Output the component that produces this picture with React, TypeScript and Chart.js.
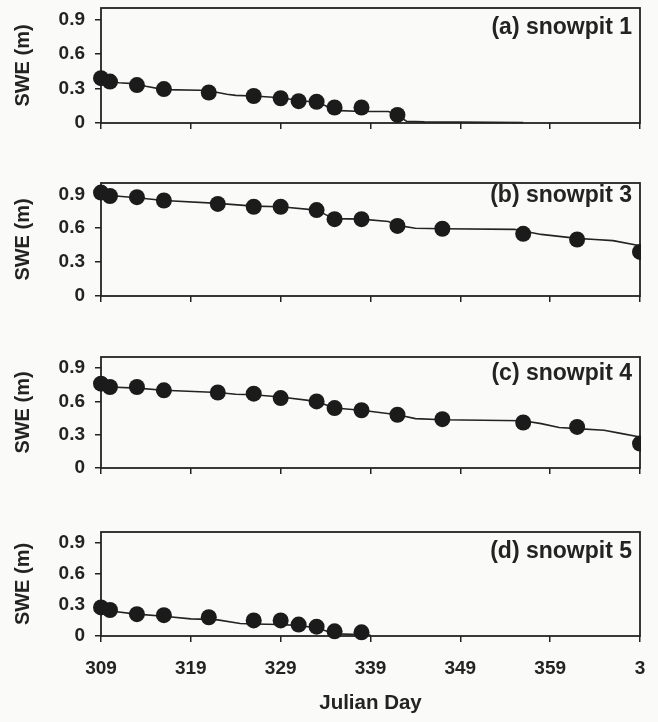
import React, { useEffect, useRef } from 'react';
import { Chart, registerables } from 'chart.js';

Chart.register(...registerables);

// ---------- data ----------
const X_TICKS = [309, 319, 329, 339, 349, 359, 369];
const X_TICK_LABELS = ['309', '319', '329', '339', '349', '359', '3'];
const Y_TICKS = [0, 0.3, 0.6, 0.9];
const Y_TICK_LABELS = ['0', '0.3', '0.6', '0.9'];
const PANEL_TITLES = ['(a) snowpit 1', '(b) snowpit 3', '(c) snowpit 4', '(d) snowpit 5'];
const X_TITLE = 'Julian Day';
const Y_TITLE = 'SWE (m)';

// observed SWE (dots)
const A_DAYS = [309, 310, 313, 316, 321, 326, 329, 331, 333, 335, 338, 342];
const A_SWE = [0.39, 0.36, 0.33, 0.295, 0.265, 0.235, 0.215, 0.19, 0.185, 0.135, 0.135, 0.07];
const B_DAYS = [309, 310, 313, 316, 322, 326, 329, 333, 335, 338, 342, 347, 356, 362, 369];
const B_SWE = [0.915, 0.885, 0.875, 0.845, 0.815, 0.79, 0.79, 0.76, 0.68, 0.68, 0.62, 0.595, 0.55, 0.5, 0.39];
const C_DAYS = [309, 310, 313, 316, 322, 326, 329, 333, 335, 338, 342, 347, 356, 362, 369];
const C_SWE = [0.76, 0.73, 0.73, 0.7, 0.68, 0.67, 0.63, 0.6, 0.54, 0.52, 0.48, 0.44, 0.41, 0.37, 0.22];
const D_DAYS = [309, 310, 313, 316, 321, 326, 329, 331, 333, 335, 338];
const D_SWE = [0.275, 0.25, 0.21, 0.2, 0.18, 0.15, 0.15, 0.11, 0.09, 0.045, 0.035];

// modelled SWE (line)
const A_LINE_DAYS = [309, 310, 311, 313, 314, 316, 320, 321, 323, 324, 326, 329, 331, 333, 334, 335, 338, 341, 342, 343, 345, 356];
const A_LINE_SWE = [0.38, 0.36, 0.35, 0.34, 0.32, 0.29, 0.285, 0.28, 0.25, 0.24, 0.235, 0.22, 0.195, 0.18, 0.15, 0.11, 0.1, 0.1, 0.07, 0.015, 0.01, 0.005];
const B_LINE_DAYS = [309, 310, 313, 316, 322, 326, 329, 333, 334, 335, 338, 341, 342, 344, 347, 355, 356, 358, 362, 364, 366, 369];
const B_LINE_SWE = [0.91, 0.89, 0.87, 0.845, 0.82, 0.795, 0.79, 0.76, 0.72, 0.685, 0.68, 0.66, 0.625, 0.6, 0.595, 0.59, 0.575, 0.545, 0.51, 0.5, 0.49, 0.445];
const C_LINE_DAYS = [309, 310, 313, 316, 322, 324, 326, 329, 333, 334, 335, 338, 342, 344, 347, 356, 358, 360, 362, 365, 367, 369];
const C_LINE_SWE = [0.76, 0.73, 0.72, 0.7, 0.68, 0.665, 0.66, 0.64, 0.6, 0.57, 0.54, 0.52, 0.48, 0.445, 0.435, 0.425, 0.4, 0.365, 0.355, 0.34, 0.31, 0.28];
const D_LINE_DAYS = [309, 310, 313, 316, 319, 321, 322, 324.5, 326, 329, 331, 333, 334, 335, 338, 339];
const D_LINE_SWE = [0.27, 0.24, 0.21, 0.19, 0.165, 0.16, 0.155, 0.12, 0.115, 0.11, 0.1, 0.08, 0.05, 0.02, 0.015, 0.01];

// ---------- layout / style ----------
const W = 658;
const H = 722;
const PLOT_LEFT = 101;
const PLOT_RIGHT = 640;
const PAD_TOP = 8;
const FONT = '"Liberation Sans", Arial, sans-serif';
const INK = '#232323';
const DOT = '#1b1b1b';

const PANELS = [
  { title: PANEL_TITLES[0], days: A_DAYS, swe: A_SWE, lineDays: A_LINE_DAYS, lineSwe: A_LINE_SWE, top: 8, bottom: 123, labelDy: 20, last: false },
  { title: PANEL_TITLES[1], days: B_DAYS, swe: B_SWE, lineDays: B_LINE_DAYS, lineSwe: B_LINE_SWE, top: 183, bottom: 296, labelDy: 13, last: false },
  { title: PANEL_TITLES[2], days: C_DAYS, swe: C_SWE, lineDays: C_LINE_DAYS, lineSwe: C_LINE_SWE, top: 357, bottom: 468, labelDy: 17, last: false },
  { title: PANEL_TITLES[3], days: D_DAYS, swe: D_SWE, lineDays: D_LINE_DAYS, lineSwe: D_LINE_SWE, top: 532, bottom: 636, labelDy: 20, last: true },
];

const boxPlugin = {
  id: 'box',
  beforeDatasetsDraw(chart: any) {
    const { ctx, chartArea: a } = chart;
    ctx.save();
    ctx.strokeStyle = INK;
    ctx.lineWidth = 1.8;
    ctx.strokeRect(a.left, a.top, a.right - a.left, a.bottom - a.top);
    ctx.restore();
  },
};

function makeLabelPlugin(text: string, dy: number) {
  return {
    id: 'panelLabel',
    afterDatasetsDraw(chart: any) {
      const { ctx, chartArea: a } = chart;
      ctx.save();
      ctx.font = `bold 23px ${FONT}`;
      ctx.fillStyle = INK;
      ctx.textAlign = 'right';
      ctx.textBaseline = 'middle';
      ctx.fillText(text, a.right - 8, a.top + dy);
      ctx.restore();
    },
  };
}

function Panel({ p }: { p: any }) {
  const ref = useRef<HTMLCanvasElement>(null);
  const canvasTop = p.top - PAD_TOP;
  const canvasBottom = p.last ? H : p.bottom + 12;
  const canvasH = canvasBottom - canvasTop;
  const xAxisH = canvasBottom - p.bottom;

  useEffect(() => {
    if (!ref.current) return;
    const chart = new Chart(ref.current, {
      type: 'scatter',
      data: {
        datasets: [
          {
            data: p.days.map((d: number, i: number) => ({ x: d, y: p.swe[i] })),
            showLine: false,
            pointRadius: 8,
            pointHoverRadius: 8,
            pointBackgroundColor: DOT,
            pointBorderColor: DOT,
            pointBorderWidth: 0,
            clip: { left: 12, top: 12, right: 1, bottom: 12 },
          } as any,
          {
            data: p.lineDays.map((d: number, i: number) => ({ x: d, y: p.lineSwe[i] })),
            showLine: true,
            pointRadius: 0,
            borderColor: INK,
            borderWidth: 1.6,
            tension: 0,
            clip: 2,
          } as any,
        ],
      },
      options: {
        responsive: false,
        animation: false,
        events: [],
        layout: { padding: { top: PAD_TOP, left: 0, right: W - PLOT_RIGHT, bottom: 0 } },
        plugins: {
          legend: { display: false },
          tooltip: { enabled: false },
          title: { display: false },
        },
        scales: {
          x: {
            type: 'linear',
            min: 309,
            max: 369,
            afterBuildTicks: (ax: any) => {
              ax.ticks = X_TICKS.map((v) => ({ value: v }));
            },
            afterFit: (ax: any) => {
              ax.height = xAxisH;
              ax.paddingLeft = 0;
              ax.paddingRight = 0;
            },
            ticks: {
              display: p.last,
              autoSkip: false,
              maxRotation: 0,
              padding: 15,
              color: INK,
              font: { family: FONT, size: 19, weight: 'bold' },
              callback: (_v: any, i: number) => X_TICK_LABELS[i],
            },
            grid: { drawOnChartArea: false, drawTicks: true, tickLength: 6, color: INK, lineWidth: 1.5 },
            border: { display: false },
            title: {
              display: p.last,
              text: X_TITLE,
              color: INK,
              font: { family: FONT, size: 20.5, weight: 'bold' },
              padding: { top: 0, bottom: 6 },
            },
          },
          y: {
            type: 'linear',
            min: 0,
            max: 1.0,
            afterBuildTicks: (ax: any) => {
              ax.ticks = Y_TICKS.map((v) => ({ value: v }));
            },
            afterFit: (ax: any) => {
              ax.width = PLOT_LEFT;
              ax.paddingTop = 0;
              ax.paddingBottom = 0;
            },
            ticks: {
              padding: 10,
              color: INK,
              font: { family: FONT, size: 19, weight: 'bold' },
              callback: (_v: any, i: number) => Y_TICK_LABELS[i],
            },
            grid: { drawOnChartArea: false, drawTicks: true, tickLength: 6, color: INK, lineWidth: 1.5 },
            border: { display: false },
            title: {
              display: true,
              text: Y_TITLE,
              color: INK,
              font: { family: FONT, size: 20, weight: 'bold' },
              padding: { top: 11, bottom: 0 },
            },
          },
        },
      } as any,
      plugins: [boxPlugin, makeLabelPlugin(p.title, p.labelDy)],
    });
    return () => chart.destroy();
  }, []);

  return (
    <canvas
      ref={ref}
      width={W}
      height={canvasH}
      style={{ position: 'absolute', left: 0, top: canvasTop, width: W, height: canvasH, display: 'block' }}
    />
  );
}

export default function App() {
  return (
    <div style={{ position: 'absolute', left: 0, top: 0, width: W, height: H, background: '#fafaf8', overflow: 'hidden' }}>
      {PANELS.map((p, i) => (
        <Panel key={i} p={p} />
      ))}
    </div>
  );
}
